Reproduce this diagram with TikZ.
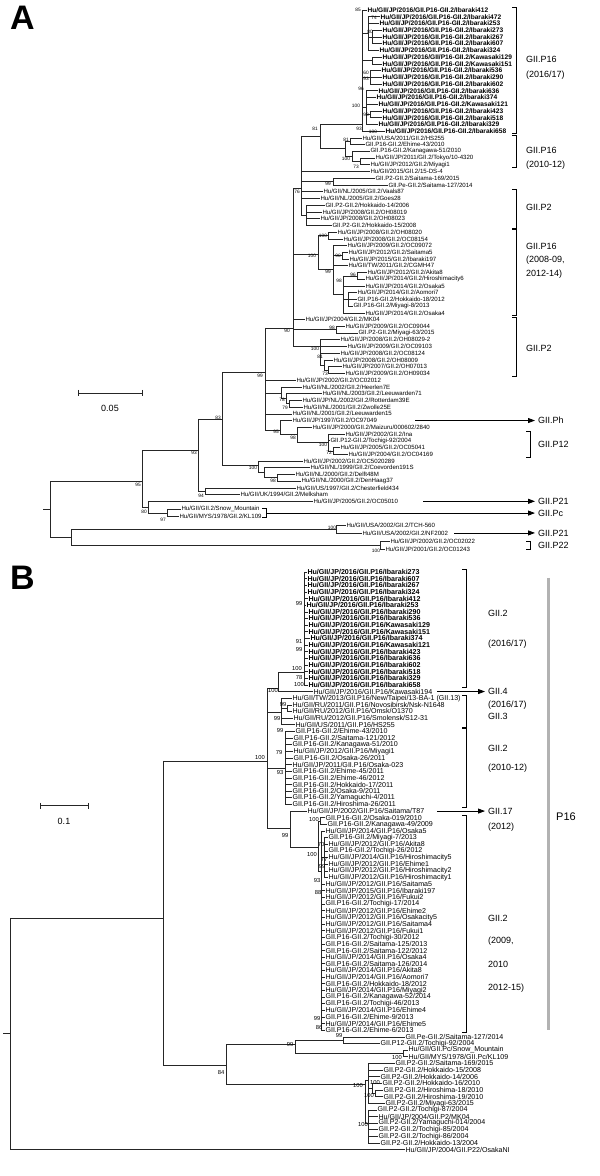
\documentclass[tikz,border=0pt]{standalone}
\usepackage{fontspec}
\setmainfont{Liberation Sans}
\usetikzlibrary{arrows.meta}
\newcounter{bsn}
\newcommand\Lf[6]{\node[#1] (#2) at (#5,#3) {#6};\draw[br] (#4,#3) -- (#2.west);}
\newcommand\Nd[6]{\coordinate (#1) at (#2,#5);\draw[br] (#2,#3) -- (#2,#4);\draw[br] (#6,#5) -- (#1);}
\newcommand\Bs[4]{\stepcounter{bsn}\node[#1] (bs\arabic{bsn}) at (#2,#3) {#4};}
\newcommand\Brk[3]{\draw[brk] (#1-4,#2) -- (#1,#2) -- (#1,#3) -- (#1-4,#3);}
\newcommand\pfA{Hu/GII/JP/2016/GII.P16-GII.2/}
\newcommand\pfB{Hu/GII/JP/2016/GII.P16/}
\begin{document}
\begin{tikzpicture}[
 br/.style={line width=0.6pt, draw=black!85},
 la/.style={font=\fontsize{6.1}{7}\selectfont, anchor=west, inner sep=0.3pt},
 lab/.style={font=\bfseries\fontsize{6.6}{7}\selectfont, anchor=west, inner sep=0.3pt},
 lb/.style={font=\fontsize{7.1}{8}\selectfont, anchor=west, inner sep=0.3pt},
 lbb/.style={font=\bfseries\fontsize{7.1}{8}\selectfont, anchor=west, inner sep=0.3pt},
 bsa/.style={font=\fontsize{4.8}{5}\selectfont, inner sep=0pt},
 bsb/.style={font=\fontsize{5.8}{6}\selectfont, inner sep=0pt},
 grp/.style={font=\fontsize{9}{10}\selectfont, anchor=west, inner sep=0pt},
 brk/.style={line width=0.7pt, draw=black},
 arr/.style={line width=0.8pt, draw=black, -{Triangle[length=7pt,width=5pt]}, shorten >=3pt},
 panel/.style={font=\bfseries\fontsize{34}{34}\selectfont, anchor=north west, inner sep=0pt},
 sbar/.style={line width=0.7pt, draw=black!85},
]
\fill[white] (0pt,0pt) rectangle (600pt,-1176pt);
\path[use as bounding box] (0pt,0pt) rectangle (600pt,-1176pt);
\node[panel] (lA) at (10pt,-6pt) {A};
\node[panel] (lB) at (10pt,-566pt) {B};

%================ PANEL A =================
\begin{scope}[x=1pt,y=-6.73pt,yshift=-10pt]
\Lf{lab}{a0}{0}{362}{367}{\pfA Ibaraki412}
\Lf{lab}{a1}{1}{368}{380}{\pfA Ibaraki472}
\Lf{lab}{a2}{2}{368}{379}{\pfA Ibaraki253}
\Lf{lab}{a3}{3}{372}{382}{\pfA Ibaraki273}
\Lf{lab}{a4}{4}{372}{382}{\pfA Ibaraki267}
\Lf{lab}{a5}{5}{372}{382}{\pfA Ibaraki607}
\Lf{lab}{a6}{6}{368}{379}{\pfA Ibaraki324}
\Lf{lab}{a7}{7}{372}{382}{Hu/GII/JP/2016/GII/P16-GII.2/Kawasaki129}
\Lf{lab}{a8}{8}{372}{382}{\pfA Kawasaki151}
\Lf{lab}{a9}{9}{370}{381}{\pfA Ibaraki536}
\Lf{lab}{a10}{10}{370}{382}{\pfA Ibaraki290}
\Lf{lab}{a11}{11}{370}{382}{\pfA Ibaraki602}
\Lf{lab}{a12}{12}{366}{378}{\pfA Ibaraki636}
\Lf{lab}{a13}{13}{366}{376}{\pfA Ibaraki374}
\Lf{lab}{a14}{14}{366}{378}{\pfA Kawasaki121}
\Lf{lab}{a15}{15}{370}{382}{\pfA Ibaraki423}
\Lf{lab}{a16}{16}{370}{382}{\pfA Ibaraki518}
\Lf{lab}{a17}{17}{366}{378}{\pfA Ibaraki329}
\Lf{lab}{a18}{18}{362}{385}{\pfA Ibaraki658}
\Nd{as1}{368}{1}{6}{3.5}{362}
\Nd{as2}{372}{3}{5}{4}{368}
\Nd{as3}{372}{7}{8}{7.5}{362}
\Nd{as4}{370}{9}{11}{10}{362}
\Nd{as6}{370}{15}{16}{15.5}{366}
\Nd{as5}{366}{12}{17}{14.5}{362}
\Nd{a2016}{362}{0}{18}{16.94}{320}
\Lf{la}{a19}{19}{350}{362}{Hu/GII/USA/2011/GII.2/HS255}
\Lf{la}{a20}{20}{350}{365}{GII.P16-GII.2/Ehime-43/2010}
\Lf{la}{a21}{21}{352}{370}{GII.P16-GII.2/Kanagawa-51/2010}
\Lf{la}{a22}{22}{360}{375}{Hu/GII/JP/2011/GII.2/Tokyo/10-4320}
\Lf{la}{a23}{23}{360}{370}{Hu/GII/JP/2012/GII.2/Miyagi1}
\Lf{la}{a24}{24}{301}{370}{Hu/GII/2015/GII.2/15-DS-4}
\Lf{la}{a25}{25}{333}{375}{GII.P2-GII.2/Saitama-169/2015}
\Lf{la}{a26}{26}{333}{388}{GII.Pe-GII.2/Saitama-127/2014}
\Lf{la}{a27}{27}{301}{323}{Hu/GII/NL/2005/GII.2/Vaals87}
\Lf{la}{a28}{28}{301}{320}{Hu/GII/NL/2005/GII.2/Goes28}
\Lf{la}{a29}{29}{306}{325}{GII.P2-GII.2/Hokkaido-14/2006}
\Lf{la}{a30}{30}{306}{322}{Hu/GII/JP/2008/GII.2/OH08019}
\Lf{la}{a31}{31}{306}{320}{Hu/GII/JP/2008/GII.2/OH08023}
\Lf{la}{a32}{32}{306}{332}{GII.P2-GII.2/Hokkaido-15/2008}
\Lf{la}{a33}{33}{328}{337}{Hu/GII/JP/2008/GII.2/OH08020}
\Lf{la}{a34}{34}{328}{343}{Hu/GII/JP/2008/GII.2/OC08154}
\Lf{la}{a35}{35}{333}{347}{Hu/GII/JP/2009/GII.2/OC09072}
\Lf{la}{a36}{36}{342}{348}{Hu/GII/JP/2012/GII.2/Saitama5}
\Lf{la}{a37}{37}{342}{349}{Hu/GII/JP/2015/GII.2/Ibaraki197}
\Lf{la}{a38}{38}{333}{348}{Hu/GII/TW/2011/GII.2/CGMH47}
\Lf{la}{a39}{39}{357}{367}{Hu/GII/JP/2012/GII.2/Akita8}
\Lf{la}{a40}{40}{357}{365}{Hu/GII/JP/2014/GII.2/Hiroshimacity6}
\Lf{la}{a41}{41}{343}{365}{Hu/GII/JP/2014/GII.2/Osaka5}
\Lf{la}{a42}{42}{348}{357}{Hu/GII/JP/2014/GII.2/Aomori7}
\Lf{la}{a43}{43}{348}{357}{GII.P16-GII.2/Hokkaido-18/2012}
\Lf{la}{a44}{44}{348}{353}{GII.P16-GII.2/Miyagi-8/2013}
\Lf{la}{a45}{45}{343}{365}{Hu/GII/JP/2014/GII.2/Osaka4}
\Lf{la}{a46}{46}{293}{305}{Hu/GII/JP/2004/GII.2/MK04}
\Lf{la}{a47}{47}{336}{345}{Hu/GII/JP/2009/GII.2/OC09044}
\Lf{la}{a48}{48}{336}{358}{GII.P2-GII.2/Miyagi-63/2015}
\Lf{la}{a49}{49}{320}{340}{Hu/GII/JP/2008/GII.2/OH08029-2}
\Lf{la}{a50}{50}{320}{347}{Hu/GII/JP/2009/GII.2/OC09103}
\Lf{la}{a51}{51}{320}{340}{Hu/GII/JP/2008/GII.2/OC08124}
\Lf{la}{a52}{52}{324}{333}{Hu/GII/JP/2008/GII.2/OH08009}
\Lf{la}{a53}{53}{328}{342}{Hu/GII/JP/2007/GII.2/OH07013}
\Lf{la}{a54}{54}{328}{345}{Hu/GII/JP/2009/GII.2/OH09034}
\Lf{la}{a55}{55}{265}{296}{Hu/GII/JP/2002/GII.2/OC02012}
\Lf{la}{a56}{56}{281}{302}{Hu/GII/NL/2002/GII.2/Heerlen7E}
\Lf{la}{a57}{57}{286}{322}{Hu/GII/NL/2003/GII.2/Leeuwarden71}
\Lf{la}{a58}{58}{289}{302}{Hu/GII/JP/NL/2002/GII.2/Rotterdam39E}
\Lf{la}{a59}{59}{289}{303}{Hu/GII/NL/2001/GII.2/Zwolle25E}
\Lf{la}{a60}{60}{265}{292}{Hu/GII/NL/2001/GII.2/Leeuwarden15}
\Lf{la}{a61}{61}{280}{292}{Hu/GII/JP/1997/GII.2/OC97049}
\Lf{la}{a62}{62}{297}{312}{Hu/GII/JP/2000/GII.2/Maizuru/000602/2840}
\Lf{la}{a63}{63}{328}{345}{Hu/GII/JP/2002/GII.2/Ina}
\Lf{la}{a64}{64}{328}{330}{GII.P12-GII.2/Tochigi-92/2004}
\Lf{la}{a65}{65}{333}{340}{Hu/GII/JP/2005/GII.2/OC05041}
\Lf{la}{a66}{66}{333}{348}{Hu/GII/JP/2004/GII.2/OC04169}
\Lf{la}{a67}{67}{258}{303}{Hu/GII/JP/2002/GII.2/OC5020289}
\Lf{la}{a68}{68}{264}{310}{Hu/GII/NL/1999/GII.2/Coevorden191S}
\Lf{la}{a69}{69}{277}{295}{Hu/GII/NL/2000/GII.2/Delft48M}
\Lf{la}{a70}{70}{277}{301}{Hu/GII/NL/2000/GII.2/DenHaag37}
\Lf{la}{a71}{71}{205}{296}{Hu/GII/US/1997/GII.2/Chesterfield434}
\Lf{la}{a72}{72}{205}{240}{Hu/GII/UK/1994/GII.2/Melksham}
\Lf{la}{a73}{73}{148}{313}{Hu/GII/JP/2005/GII.2/OC05010}
\Lf{la}{a74}{74.2}{167}{181}{Hu/GII/GII.2/Snow\_Mountain}
\Lf{la}{a75}{75.3}{167}{179}{Hu/GII/MYS/1978/GII.2/KL109}
\Lf{la}{a76}{76.6}{336}{346}{Hu/GII/USA/2002/GII.2/TCH-560}
\Lf{la}{a77}{77.7}{336}{362}{Hu/GII/USA/2002/GII.2/NF2002}
\Lf{la}{a78}{79}{380}{390}{Hu/GII/JP/2002/GII.2/OC02022}
\Lf{la}{a79}{80.1}{380}{385}{Hu/GII/JP/2001/GII.2/OC01243}
\Nd{anHS}{350}{19}{20}{19.5}{345}
\Nd{anT}{360}{22}{23}{22.5}{352}
\Nd{anK}{352}{21}{22.5}{21.75}{345}
\Nd{an1012}{345}{19.5}{21.75}{20.5}{320}
\Nd{an81}{320}{16.94}{20.5}{18.72}{301}
\Nd{anSa}{333}{25}{26}{25.5}{301}
\Nd{anH}{306}{29}{32}{30.5}{301}
\Nd{an76}{301}{18.72}{30.5}{26.45}{293}
\Nd{an100d}{328}{33}{34}{33.5}{318}
\Nd{an90c}{342}{36}{37}{36.5}{333}
\Nd{an96}{357}{39}{40}{39.5}{343}
\Nd{ansub}{348}{42}{44}{43}{343}
\Nd{an98c}{343}{39.5}{45}{42.25}{333}
\Nd{an99c}{333}{35}{42.25}{38.6}{318}
\Nd{an100c}{318}{33.5}{38.6}{36.25}{293}
\Nd{an98d}{336}{47}{48}{47.5}{293}
\Nd{an73}{328}{53}{54}{53.5}{324}
\Nd{an81b}{324}{52}{53.5}{52.75}{320}
\Nd{an100e}{320}{49}{52.75}{50}{293}
\Nd{an90}{293}{26.45}{50}{47.25}{265}
\Nd{anZ}{289}{58}{59}{58.5}{286}
\Nd{an78}{286}{57}{58.5}{57.75}{281}
\Nd{anHeer}{281}{56}{57.75}{56.9}{265}
\Nd{an72}{333}{65}{66}{65.5}{328}
\Nd{anP12}{328}{63}{65.5}{64.2}{297}
\Nd{an98b}{297}{62}{64.2}{63.1}{280}
\Nd{anPh}{280}{61}{63.1}{62.4}{265}
\Nd{an99}{265}{47.25}{62.4}{53.9}{222}
\Nd{an98}{277}{69}{70}{69.5}{264}
\Nd{anC}{264}{68}{69.5}{68.75}{258}
\Nd{an100b}{258}{67}{68.75}{67.6}{222}
\Nd{an83}{222}{53.9}{67.6}{60.77}{198}
\Nd{an94}{205}{71}{72}{71.5}{198}
\Nd{an93}{198}{60.77}{71.5}{65.4}{142}
\Nd{anSK}{167}{74.2}{75.3}{74.75}{148}
\Nd{an80}{148}{73}{74.75}{73.9}{142}
\Nd{an95}{142}{65.4}{73.9}{70}{50}
\Nd{anP21}{336}{76.6}{77.7}{77.15}{71}
\Nd{anP22}{380}{79}{80.1}{79.55}{71}
\Nd{an71}{71}{77.15}{79.55}{78.35}{50}
\coordinate (aroot) at (50,74.2);
\draw[br] (50,70) -- (50,78.35);
\draw[br] (43,74.2) -- (aroot);
\Bs{bsa}{358}{0}{85}\Bs{bsa}{374}{1.2}{74}\Bs{bsa}{370}{3.3}{80}
\Bs{bsa}{366}{9.3}{60}\Bs{bsa}{366}{10.3}{93}\Bs{bsa}{361}{11.7}{96}
\Bs{bsa}{356}{14.2}{100}\Bs{bsa}{366}{15.6}{98}\Bs{bsa}{359}{17.6}{93}
\Bs{bsa}{373}{18.1}{100}\Bs{bsa}{315}{17.6}{81}\Bs{bsa}{346}{19.3}{81}
\Bs{bsa}{346}{22.1}{100}\Bs{bsa}{356}{23.3}{73}\Bs{bsa}{328}{25.8}{99}
\Bs{bsa}{297}{27}{76}\Bs{bsa}{323}{33.6}{100}\Bs{bsa}{312}{36.6}{100}
\Bs{bsa}{338}{36.6}{90}\Bs{bsa}{328}{38.9}{99}\Bs{bsa}{353}{39.3}{96}
\Bs{bsa}{339}{40.2}{98}\Bs{bsa}{332}{47.2}{98}\Bs{bsa}{287}{47.7}{90}
\Bs{bsa}{315}{50.3}{100}\Bs{bsa}{320}{51.6}{81}\Bs{bsa}{325}{54}{73}
\Bs{bsa}{260}{54.3}{99}\Bs{bsa}{282}{57.9}{78}\Bs{bsa}{285}{59.1}{79}
\Bs{bsa}{218}{60.6}{83}\Bs{bsa}{276}{62.7}{95}\Bs{bsa}{293}{63.5}{98}
\Bs{bsa}{323}{64.6}{100}\Bs{bsa}{329}{65.8}{72}\Bs{bsa}{194}{65.8}{93}
\Bs{bsa}{253}{68}{100}\Bs{bsa}{273}{69.9}{98}\Bs{bsa}{201}{72.2}{94}
\Bs{bsa}{138}{70.5}{95}\Bs{bsa}{144}{74.5}{80}\Bs{bsa}{163}{75.8}{97}
\Bs{bsa}{332}{76.9}{100}\Bs{bsa}{376}{80.3}{100}
\coordinate (asbl) at (78,56.9);
\coordinate (asbr) at (142,56.9);
\draw[sbar] (asbl) -- (asbr);
\draw[sbar] (78,56.45) -- (78,57.35);
\draw[sbar] (142,56.45) -- (142,57.35);
\node[font=\fontsize{9}{10}\selectfont] (asbt) at (110,59.2) {0.05};
\Brk{516}{-0.4}{18.4}
\node[grp] (tA1) at (526,7.4) {GII.P16};
\node[grp] (tA2) at (526,9.7) {(2016/17)};
\Brk{516}{18.6}{23.4}
\node[grp] (tA3) at (526,20.8) {GII.P16};
\node[grp] (tA4) at (526,23.0) {(2010-12)};
\Brk{516}{26.6}{32.4}
\node[grp] (tA5) at (526,29.3) {GII.P2};
\Brk{516}{32.6}{45.4}
\node[grp] (tA6) at (526,35.1) {GII.P16};
\node[grp] (tA7) at (526,37.2) {(2008-09,};
\node[grp] (tA8) at (526,39.3) {2012-14)};
\Brk{516}{45.6}{54.4}
\node[grp] (tA9) at (526,50.3) {GII.P2};
\node[grp] (tA10) at (538,61) {GII.Ph};
\draw[arr] (415,61) -- (tA10.west);
\Brk{530}{62.6}{66.4}
\node[grp] (tA11) at (538,64.5) {GII.P12};
\node[grp] (tA12) at (538,73) {GII.P21};
\draw[arr] (423,73) -- (tA12.west);
\Brk{266}{74.05}{75.45}
\node[grp] (tA13) at (538,74.75) {GII.Pc};
\draw[arr] (266,74.75) -- (tA13.west);
\node[grp] (tA14) at (538,77.7) {GII.P21};
\draw[arr] ([xshift=6pt]a77.east) -- (tA14.west);
\Brk{530}{78.9}{80.2}
\node[grp] (tA15) at (538,79.55) {GII.P22};
\end{scope}

%================ PANEL B =================
\begin{scope}[x=1pt,y=-6.64pt,yshift=-572pt]
\Lf{lbb}{b0}{0}{304}{307}{\pfB Ibaraki273}
\Lf{lbb}{b1}{1}{304}{307}{\pfB Ibaraki607}
\Lf{lbb}{b2}{2}{304}{307}{\pfB Ibaraki267}
\Lf{lbb}{b3}{3}{304}{307}{\pfB Ibaraki324}
\Lf{lbb}{b4}{4}{304}{308}{\pfB Ibaraki412}
\Lf{lbb}{b5}{5}{304}{306}{\pfB Ibaraki253}
\Lf{lbb}{b6}{6}{304}{308}{\pfB Ibaraki290}
\Lf{lbb}{b7}{7}{304}{308}{\pfB Ibaraki536}
\Lf{lbb}{b8}{8}{304}{308}{\pfB Kawasaki129}
\Lf{lbb}{b9}{9}{304}{308}{\pfB Kawasaki151}
\Lf{lbb}{b10}{10}{304}{310}{\pfB Ibaraki374}
\Lf{lbb}{b11}{11}{304}{308}{\pfB Kawasaki121}
\Lf{lbb}{b12}{12}{304}{308}{\pfB Ibaraki423}
\Lf{lbb}{b13}{13}{304}{308}{\pfB Ibaraki636}
\Lf{lbb}{b14}{14}{304}{308}{\pfB Ibaraki602}
\Lf{lbb}{b15}{15}{304}{308}{\pfB Ibaraki518}
\Lf{lbb}{b16}{16}{304}{308}{\pfB Ibaraki329}
\Lf{lbb}{b17}{17}{304}{308}{\pfB Ibaraki658}
\Lf{lb}{b18}{18}{278}{313}{\pfB Kawasaki194}
\Lf{lb}{b19}{19}{281}{292}{Hu/GII/TW/2013/GII.P16/New/Taipei/13-BA-1 (GII.13)}
\Lf{lb}{b20}{20}{287}{292}{Hu/GII/RU/2011/GII.P16/Novosibirsk/Nsk-N1648}
\Lf{lb}{b21}{21}{287}{292}{Hu/GII/RU/2012/GII.P16/Omsk/O1370}
\Lf{lb}{b22}{22}{281}{293}{Hu/GII/RU/2012/GII.P16/Smolensk/S12-31}
\Lf{lb}{b23}{23}{281}{295}{Hu/GII/US/2011/GII.P16/HS255}
\Lf{lb}{b24}{24}{285}{295}{GII.P16-GII.2/Ehime-43/2010}
\Lf{lb}{b25}{25}{285}{293}{GII.P16-GII.2/Saitama-121/2012}
\Lf{lb}{b26}{26}{285}{292}{GII.P16-GII.2/Kanagawa-51/2010}
\Lf{lb}{b27}{27}{285}{293}{Hu/GII/JP/2012/GII.P16/Miyagi1}
\Lf{lb}{b28}{28}{285}{293}{GII.P16-GII.2/Osaka-26/2011}
\Lf{lb}{b29}{29}{285}{292}{Hu/GII/JP/2011/GII.P16/Osaka-023}
\Lf{lb}{b30}{30}{285}{292}{GII.P16-GII.2/Ehime-45/2011}
\Lf{lb}{b31}{31}{285}{292}{GII.P16-GII.2/Ehime-46/2012}
\Lf{lb}{b32}{32}{285}{292}{GII.P16-GII.2/Hokkaido-17/2011}
\Lf{lb}{b33}{33}{285}{292}{GII.P16-GII.2/Osaka-9/2011}
\Lf{lb}{b34}{34}{285}{292}{GII.P16-GII.2/Yamaguchi-4/2011}
\Lf{lb}{b35}{35}{285}{292}{GII.P16-GII.2/Hiroshima-26/2011}
\Lf{lb}{b36}{36}{290}{307}{Hu/GII/JP/2002/GII.P16/Saitama/T87}
\Lf{lb}{b37}{37}{320}{325}{GII.P16-GII.2/Osaka-019/2010}
\Lf{lb}{b38}{38}{320}{327}{GII.P16-GII.2/Kanagawa-49/2009}
\Lf{lb}{b39}{39}{321}{325}{Hu/GII/JP/2014/GII.P16/Osaka5}
\Lf{lb}{b40}{40}{324}{328}{GII.P16-GII.2/Miyagi-7/2013}
\Lf{lb}{b41}{41}{324}{328}{Hu/GII/JP/2012/GII.P16/Akita8}
\Lf{lb}{b42}{42}{324}{328}{GII.P16-GII.2/Tochigi-26/2012}
\Lf{lb}{b43}{43}{324}{328}{Hu/GII/JP/2014/GII.P16/Hiroshimacity5}
\Lf{lb}{b44}{44}{324}{328}{Hu/GII/JP/2012/GII.P16/Ehime1}
\Lf{lb}{b45}{45}{324}{328}{Hu/GII/JP/2012/GII.P16/Hiroshimacity2}
\Lf{lb}{b46}{46}{324}{328}{Hu/GII/JP/2012/GII.P16/Hiroshimacity1}
\Lf{lb}{b47}{47}{321}{325}{Hu/GII/JP/2012/GII.P16/Saitama5}
\Lf{lb}{b48}{48}{321}{325}{Hu/GII/JP/2015/GII.P16/Ibaraki197}
\Lf{lb}{b49}{49}{321}{325}{Hu/GII/JP/2012/GII.P16/Fukui2}
\Lf{lb}{b50}{50}{321}{325}{GII.P16-GII.2/Tochigi-17/2014}
\Lf{lb}{b51}{51}{321}{325}{Hu/GII/JP/2012/GII.P16/Ehime2}
\Lf{lb}{b52}{52}{321}{325}{Hu/GII/JP/2012/GII.P16/Osakacity5}
\Lf{lb}{b53}{53}{321}{325}{Hu/GII/JP/2012/GII.P16/Saitama4}
\Lf{lb}{b54}{54}{321}{325}{Hu/GII/JP/2012/GII.P16/Fukui1}
\Lf{lb}{b55}{55}{321}{325}{GII.P16-GII.2/Tochigi-30/2012}
\Lf{lb}{b56}{56}{321}{325}{GII.P16-GII.2/Saitama-125/2013}
\Lf{lb}{b57}{57}{321}{325}{GII.P16-GII.2/Saitama-122/2012}
\Lf{lb}{b58}{58}{321}{325}{Hu/GII/JP/2014/GII.P16/Osaka4}
\Lf{lb}{b59}{59}{321}{325}{GII.P16-GII.2/Saitama-126/2014}
\Lf{lb}{b60}{60}{321}{325}{Hu/GII/JP/2014/GII.P16/Akita8}
\Lf{lb}{b61}{61}{321}{325}{Hu/GII/JP/2014/GII.P16/Aomori7}
\Lf{lb}{b62}{62}{321}{325}{GII.P16-GII.2/Hokkaido-18/2012}
\Lf{lb}{b63}{63}{321}{325}{Hu/GII/JP/2014/GII.P16/Miyagi2}
\Lf{lb}{b64}{64}{321}{325}{GII.P16-GII.2/Kanagawa-52/2014}
\Lf{lb}{b65}{65}{321}{325}{GII.P16-GII.2/Tochigi-46/2013}
\Lf{lb}{b66}{66}{321}{325}{Hu/GII/JP/2014/GII.P16/Ehime4}
\Lf{lb}{b67}{67}{321}{325}{GII.P16-GII.2/Ehime-9/2013}
\Lf{lb}{b68}{68}{321}{325}{Hu/GII/JP/2014/GII.P16/Ehime5}
\Lf{lb}{b69}{69}{321}{325}{GII.P16-GII.2/Ehime-6/2013}
\Lf{lb}{b70}{70}{343}{405}{GII.Pe-GII.2/Saitama-127/2014}
\Lf{lb}{b71}{71}{343}{380}{GII.P12-GII.2/Tochigi-92/2004}
\Lf{lb}{b72}{72}{403}{408}{Hu/GII/GII.Pc/Snow\_Mountain}
\Lf{lb}{b73}{73}{403}{408}{Hu/GII/MYS/1978/GII.Pc/KL109}
\Lf{lb}{b74}{74}{368}{395}{GII.P2-GII.2/Saitama-169/2015}
\Lf{lb}{b75}{75}{368}{383}{GII.P2-GII.2/Hokkaido-15/2008}
\Lf{lb}{b76}{76}{368}{380}{GII.P2-GII.2/Hokkaido-14/2006}
\Lf{lb}{b77}{77}{372}{382}{GII.P2-GII.2/Hokkaido-16/2010}
\Lf{lb}{b78}{78}{375}{383}{GII.P2-GII.2/Hiroshima-18/2010}
\Lf{lb}{b79}{79}{375}{383}{GII.P2-GII.2/Hiroshima-19/2010}
\Lf{lb}{b80}{80}{368}{385}{GII.P2-GII.2/Miyagi-63/2015}
\Lf{lb}{b81}{81}{368}{377}{GII.P2-GII.2/Tochigi-87/2004}
\Lf{lb}{b82}{82}{368}{378}{Hu/GII/JP/2004/GII.P2/MK04}
\Lf{lb}{b83}{83}{368}{378}{GII.P2-GII.2/Yamaguchi-014/2004}
\Lf{lb}{b84}{84}{368}{378}{GII.P2-GII.2/Tochigi-85/2004}
\Lf{lb}{b85}{85}{368}{378}{GII.P2-GII.2/Tochigi-86/2004}
\Lf{lb}{b86}{86}{368}{380}{GII.P2-GII.2/Hokkaido-13/2004}
\Lf{lb}{b87}{87}{10}{405}{Hu/GII/JP/2004/GII.P22/OsakaNI}
\Nd{bspine}{304}{0}{17}{15.06}{278}
\Nd{bnA}{278}{15.06}{18}{17.47}{267}
\Nd{bnNO}{287}{20}{21}{20.5}{281}
\Nd{bnG3}{281}{19}{23}{21.1}{267}
\Nd{bn1012}{285}{24}{35}{29.5}{267}
\Nd{bnOK}{320}{37}{38}{37.5}{318}
\Nd{bsubM}{324}{40}{46}{43}{321}
\Nd{bcomb}{321}{39}{69}{45}{318}
\Nd{bn0915}{318}{37.5}{45}{41.4}{290}
\Nd{bn17}{290}{36}{41.4}{38.55}{267}
\Nd{bnP16}{267}{17.47}{38.55}{28.46}{163}
\Nd{bnPP}{343}{70}{71}{70.5}{295}
\Nd{bnSK}{403}{72}{73}{72.5}{295}
\Nd{bn99B}{295}{70.5}{72.5}{71.1}{226}
\Nd{bnHH}{375}{78}{79}{78.5}{372}
\Nd{bnH}{372}{77}{78.5}{77.75}{368}
\Nd{bnA2}{368}{74}{80}{76.5}{365}
\Nd{bnB2}{368}{81}{86}{83}{365}
\Nd{bnP2}{365}{76.5}{83}{77.1}{226}
\Nd{bn84}{226}{71.1}{77.1}{74.25}{163}
\Nd{bn163}{163}{28.46}{74.25}{52.1}{10}
\coordinate (broot) at (10,69.5);
\draw[br] (10,52.1) -- (10,87);
\draw[br] (3,69.5) -- (broot);
\Bs{bsb}{299}{4.7}{99}\Bs{bsb}{299}{10.4}{91}\Bs{bsb}{299}{11.6}{99}
\Bs{bsb}{297}{14.5}{100}\Bs{bsb}{299}{15.9}{78}\Bs{bsb}{299}{17}{100}
\Bs{bsb}{273}{17.9}{100}\Bs{bsb}{283}{20}{99}\Bs{bsb}{277}{22.1}{99}
\Bs{bsb}{280}{23.8}{99}\Bs{bsb}{279}{27.2}{79}\Bs{bsb}{280}{30.2}{93}
\Bs{bsb}{260}{28}{100}\Bs{bsb}{285}{39.7}{99}\Bs{bsb}{314}{37.3}{100}
\Bs{bsb}{321}{41.1}{70}\Bs{bsb}{312}{42.6}{100}\Bs{bsb}{324}{43.3}{77}
\Bs{bsb}{322}{44.3}{99}\Bs{bsb}{317}{46.5}{93}\Bs{bsb}{318}{48.3}{88}
\Bs{bsb}{317}{67.2}{99}\Bs{bsb}{319}{68.6}{86}\Bs{bsb}{339}{69.8}{99}
\Bs{bsb}{290}{71.2}{99}\Bs{bsb}{397}{73.1}{100}\Bs{bsb}{221}{75.4}{84}
\Bs{bsb}{358}{77.3}{100}\Bs{bsb}{375}{76.9}{100}\Bs{bsb}{369}{78.8}{100}
\Bs{bsb}{363}{83.2}{100}
\coordinate (bsbl) at (40,35.2);
\coordinate (bsbr) at (88,35.2);
\draw[sbar] (bsbl) -- (bsbr);
\draw[sbar] (40,34.75) -- (40,35.65);
\draw[sbar] (88,34.75) -- (88,35.65);
\node[font=\fontsize{9}{10}\selectfont] (bsbt) at (64,37.6) {0.1};
\Brk{466}{-0.4}{17.4}
\node[grp] (g1) at (488,6.2) {GII.2};
\node[grp] (g2) at (488,10.8) {(2016/17)};
\node[grp] (g3) at (488,18) {GII.4};
\draw[arr] (437,18) -- (g3.west);
\node[grp] (g4) at (488,20.1) {(2016/17)};
\Brk{466}{18.6}{23.4}
\node[grp] (g5) at (488,21.8) {GII.3};
\Brk{466}{23.6}{35.4}
\node[grp] (g6) at (488,26.5) {GII.2};
\node[grp] (g7) at (488,29.6) {(2010-12)};
\node[grp] (g8) at (488,36) {GII.17};
\draw[arr] (437,36) -- (g8.west);
\node[grp] (g9) at (488,38.4) {(2012)};
\Brk{466}{36.6}{69.4}
\node[grp] (g10) at (488,52.1) {GII.2};
\node[grp] (g11) at (488,55.6) {(2009,};
\node[grp] (g12) at (488,59.1) {2010};
\node[grp] (g13) at (488,62.6) {2012-15)};
\coordinate (gbt) at (548,0.9);
\coordinate (gbb) at (548,69);
\draw[line width=3pt, draw=black!30] (gbt) -- (gbb);
\node[font=\fontsize{11}{12}\selectfont, anchor=west, inner sep=0pt] (p16) at (556,36.9) {P16};
\end{scope}
\end{tikzpicture}
\end{document}
